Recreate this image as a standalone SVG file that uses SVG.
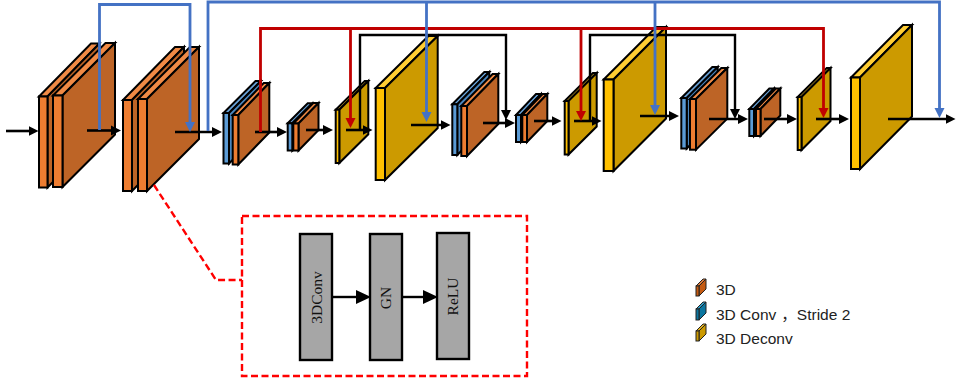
<svg xmlns="http://www.w3.org/2000/svg" width="956" height="380" viewBox="0 0 956 380">
<style>
.s rect,.s polygon{stroke:#000;stroke-width:2;stroke-linejoin:miter}
.o rect{fill:#ed7d31}.o .t{fill:#f08a45}.o .d{fill:#bd6426}
.b rect{fill:#5b9bd5}.b .t{fill:#6aa5dc}.b .d{fill:#4a86be}
.y rect{fill:#ffc000}.y .t{fill:#ffcd33}.y .d{fill:#cc9a00}
.flow{fill:none;stroke:#000;stroke-width:2.6;marker-end:url(#hk)}
.skip{fill:none;stroke:#000;stroke-width:2.4;marker-end:url(#hk)}
.red{fill:none;stroke:#c00000;stroke-width:2.8;marker-end:url(#hr)}
.blue{fill:none;stroke:#4472c4;stroke-width:2.8;marker-end:url(#hb)}
.dash{fill:none;stroke:#f00;stroke-width:2.4;stroke-dasharray:7 3.5}
.box{fill:#a6a6a6;stroke:#000;stroke-width:2.4}
.bt{font:15.5px "Liberation Serif",serif;fill:#111;text-anchor:middle}
.lg{font:15.5px "Liberation Sans","Noto Sans CJK SC",sans-serif;fill:#222}
.in rect,.in polygon{stroke:#222;stroke-width:1}
</style>
<defs>
<marker id="hk" markerUnits="userSpaceOnUse" markerWidth="10" markerHeight="11" refX="5" refY="5.500" orient="auto"><path d="M0 .5L10 5.500L0 10.500Z" fill="#000"/></marker>
<marker id="hr" markerUnits="userSpaceOnUse" markerWidth="10" markerHeight="11" refX="5" refY="5.500" orient="auto"><path d="M0 .5L10 5.500L0 10.500Z" fill="#c00000"/></marker>
<marker id="hb" markerUnits="userSpaceOnUse" markerWidth="10" markerHeight="11" refX="5" refY="5.500" orient="auto"><path d="M0 .5L10 5.500L0 10.500Z" fill="#4472c4"/></marker>
<marker id="hl" markerUnits="userSpaceOnUse" markerWidth="15" markerHeight="15" refX="7" refY="7.500" orient="auto"><path d="M0 .5L15 7.500L0 14.500Z" fill="#000"/></marker>
</defs>

<g id="node-a" class="s o">
<polygon class="t" points="39,96.5 91,43.500 99.5,43.500 47.5,96.5"/><polygon class="d" points="47.5,96.5 99.5,43.500 99.5,134.5 47.5,187.5"/><rect x="39" y="96.5" width="8.5" height="91"/>
<polygon class="t" points="53,95.5 105.5,43 115,43 62.5,95.5"/><polygon class="d" points="62.5,95.5 115,43 115,134.5 62.5,187"/><rect x="53" y="95.5" width="9.5" height="91.500"/>
</g>
<g id="node-b" class="s o">
<polygon class="t" points="123,100 175,47 184,47 132,100"/><polygon class="d" points="132,100 184,47 184,138 132,191"/><rect x="123" y="100" width="9" height="91"/>
<polygon class="t" points="138,99 190,47 199,47 147,99"/><polygon class="d" points="147,99 199,47 199,139 147,191"/><rect x="138" y="99" width="9" height="92"/>
</g>
<g id="node-c" class="s">
<g class="b"><polygon class="t" points="223.5,113 255.5,81 261,81 229,113"/><polygon class="d" points="229,113 261,81 261,131.5 229,163.5"/><rect x="223.5" y="113" width="5.5" height="50.5"/></g>
<g class="o"><polygon class="t" points="232.7,115 263.7,83 269.3,83 238.3,115"/><polygon class="d" points="238.3,115 269.3,83 269.3,132.5 238.3,164.5"/><rect x="232.7" y="115" width="5.6" height="49.5"/></g>
</g>
<g id="node-d" class="s">
<g class="b"><polygon class="t" points="287.7,123.3 307.7,103.3 312.3,103.3 292.3,123.3"/><polygon class="d" points="292.3,123.3 312.3,103.3 312.3,130.5 292.3,150.5"/><rect x="287.7" y="123.3" width="4.6" height="27.2"/></g>
<g class="o"><polygon class="t" points="293.3,123.5 313.3,103 318.5,103 298.5,123.5"/><polygon class="d" points="298.5,123.5 318.5,103 318.5,130 298.5,150.5"/><rect x="293.3" y="123.5" width="5.2" height="27"/></g>
</g>
<g id="node-e" class="s y"><polygon class="t" points="335.7,109.7 364.7,81 368.3,81 339.3,109.7"/><polygon class="d" points="339.3,109.7 368.3,81 368.3,134.3 339.3,163"/><rect x="335.7" y="109.7" width="3.6" height="53.3"/></g>
<g id="node-f" class="s y"><polygon class="t" points="375.7,88 428.4,36 437.7,36 385,88"/><polygon class="d" points="385,88 437.7,36 437.7,128 385,180"/><rect x="375.7" y="88" width="9.3" height="92"/></g>
<g id="node-g" class="s">
<g class="b"><polygon class="t" points="452.3,104.3 484.3,72 489.3,72 457.3,104.3"/><polygon class="d" points="457.3,104.3 489.3,72 489.3,122.7 457.3,155"/><rect x="452.3" y="104.3" width="5" height="50.7"/></g>
<g class="o"><polygon class="t" points="461.3,106 492.6,74 498.3,74 467,106"/><polygon class="d" points="467,106 498.3,74 498.3,124 467,156"/><rect x="461.3" y="106" width="5.7" height="50"/></g>
</g>
<g id="node-h" class="s">
<g class="b"><polygon class="t" points="516,115 536,94 541,94 521,115"/><polygon class="d" points="521,115 541,94 541,121 521,142"/><rect x="516" y="115" width="5" height="27"/></g>
<g class="o"><polygon class="t" points="522.3,115 542.6,94 547.3,94 527,115"/><polygon class="d" points="527,115 547.3,94 547.3,121 527,142"/><rect x="522.3" y="115" width="4.7" height="27"/></g>
</g>
<g id="node-i" class="s y"><polygon class="t" points="564.7,101 592.9,73 596.7,73 568.5,101"/><polygon class="d" points="568.5,101 596.7,73 596.7,126.5 568.5,154.5"/><rect x="564.7" y="101" width="3.8" height="53.5"/></g>
<g id="node-j" class="s y"><polygon class="t" points="603.7,79.5 656.2,27 666,27 613.5,79.5"/><polygon class="d" points="613.5,79.5 666,27 666,118.5 613.5,171"/><rect x="603.7" y="79.5" width="9.8" height="91.5"/></g>
<g id="node-k" class="s">
<g class="b"><polygon class="t" points="681.3,98 712.3,67 717.7,67 686.7,98"/><polygon class="d" points="686.7,98 717.7,67 717.7,117.5 686.7,148.5"/><rect x="681.3" y="98" width="5.4" height="50.5"/></g>
<g class="o"><polygon class="t" points="690,99 721.3,68 727.3,68 696,99"/><polygon class="d" points="696,99 727.3,68 727.3,118.7 696,149.7"/><rect x="690" y="99" width="6" height="50.7"/></g>
</g>
<g id="node-l" class="s">
<g class="b"><polygon class="t" points="749.3,109 769.3,88.5 774,88.5 754,109"/><polygon class="d" points="754,109 774,88.5 774,115.5 754,136"/><rect x="749.3" y="109" width="4.7" height="27"/></g>
<g class="o"><polygon class="t" points="756,109 775.8,88.5 780.3,88.5 760.5,109"/><polygon class="d" points="760.5,109 780.3,88.5 780.3,115.5 760.5,136"/><rect x="756" y="109" width="4.5" height="27"/></g>
</g>
<g id="node-m" class="s y"><polygon class="t" points="797.7,97 826.7,68 830.5,68 801.5,97"/><polygon class="d" points="801.5,97 830.5,68 830.5,121 801.5,150"/><rect x="797.7" y="97" width="3.8" height="53"/></g>
<g id="node-n" class="s y"><polygon class="t" points="851,77.5 903,25 912,25 860,77.5"/><polygon class="d" points="860,77.5 912,25 912,116.5 860,169"/><rect x="851" y="77.5" width="9" height="91.5"/></g>

<g id="connectors">
<path class="flow" d="M6 131H33.500"/>
<path class="flow" d="M87 130.500H116"/>
<path class="flow" d="M175 132H217"/>
<path class="flow" d="M255 132H282"/>
<path class="flow" d="M306 130H328"/>
<path class="flow" d="M346 130H367.500"/>
<path class="flow" d="M411 125H445.500"/>
<path class="flow" d="M483 123H510"/>
<path class="flow" d="M534 121H556.500"/>
<path class="flow" d="M574 121H596.500"/>
<path class="flow" d="M640 116H674"/>
<path class="flow" d="M709 119H743"/>
<path class="flow" d="M764 119H792"/>
<path class="flow" d="M816 119H844"/>
<path class="flow" d="M888 119H950.500"/>
<path class="skip" d="M360 130V35H506V115"/>
<path class="skip" d="M590 121V35H735V114"/>
<path class="red" d="M260.500 132V28.500H823.500V113"/>
<path class="red" d="M350.500 28.500V123"/>
<path class="red" d="M581 28.500V116"/>
<path class="blue" d="M99.500 130V4.500H190V127"/>
<path class="blue" d="M208 131V2H939.500V113"/>
<path class="blue" d="M426.500 2V117"/>
<path class="blue" d="M655 2V110"/>
<path class="dash" d="M154 185L216 280H242"/>
<path d="M332 297H363" fill="none" stroke="#000" stroke-width="2.4" marker-end="url(#hl)"/>
<path d="M402 297H430" fill="none" stroke="#000" stroke-width="2.4" marker-end="url(#hl)"/>
</g>

<g id="inset"><rect class="dash" x="242" y="216" width="285" height="160"/></g>
<g id="node-3dconv"><rect class="box" x="300" y="234" width="32" height="126"/><text class="bt" transform="translate(321.500 297.500) rotate(-90)">3DConv</text></g>
<g id="node-gn"><rect class="box" x="370" y="234" width="32" height="126"/><text class="bt" transform="translate(391 298) rotate(-90)">GN</text></g>
<g id="node-relu"><rect class="box" x="437" y="233" width="32" height="126"/><text class="bt" transform="translate(458 296.500) rotate(-90)">ReLU</text></g>

<g id="legend-3d" class="in"><polygon points="696,286 703,279 706,279 699,286" fill="#e07b39"/><polygon points="699,286 706,279 706,289 699,296" fill="#c55a11"/><rect x="696" y="286" width="3" height="10" fill="#c55a11"/><text class="lg" x="716" y="295" stroke="none">3D</text></g>
<g id="legend-conv" class="in"><polygon points="696,309 703,302 706,302 699,309" fill="#2e9ac4"/><polygon points="699,309 706,302 706,313 699,320" fill="#0b76a0"/><rect x="696" y="309" width="3" height="11" fill="#0b76a0"/><text class="lg" x="716" y="320" stroke="none">3D Conv<tspan dx="5">，</tspan>Stride 2</text></g>
<g id="legend-deconv" class="in"><polygon points="696,331 703,324 706,324 699,331" fill="#e0b020"/><polygon points="699,331 706,324 706,334 699,341" fill="#cc9a00"/><rect x="696" y="331" width="3" height="10" fill="#cc9a00"/><text class="lg" x="716" y="344" stroke="none">3D Deconv</text></g>
</svg>
